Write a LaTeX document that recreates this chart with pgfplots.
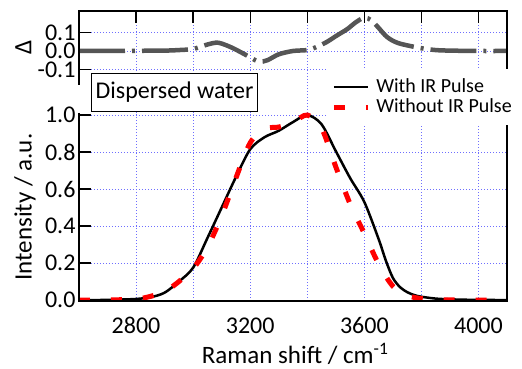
\documentclass[border=0pt]{standalone}
\usepackage{pgfplots}
\pgfplotsset{compat=1.18}
\usepackage{fontspec}
\setmainfont{Carlito}
\definecolor{gridblue}{RGB}{110,110,255}
\definecolor{deltagray}{RGB}{85,85,85}
\begin{document}
\begin{tikzpicture}
\path[use as bounding box] (-79pt,-68pt) rectangle (443pt,301pt);
\pgfplotsset{
 common/.style={
  width=428pt, scale only axis, xmin=2600, xmax=4100,
  axis line style={draw=none},
  tick style={black, line width=1.3pt},
  major tick length=12pt,
  grid=major,
  major grid style={gridblue, line width=0.8pt, dash pattern=on 1pt off 2pt},
  tick label style={font=\fontsize{24}{28}\selectfont},
  label style={font=\fontsize{25}{30}\selectfont},
  clip mode=individual,
 }
}
% ---------- Delta panel ----------
\begin{axis}[common, at={(0pt,188pt)}, anchor=south west, height=102pt,
  ymin=-0.335, ymax=0.216,
  xtick={2800,3000,3200,3400,3600,3800,4000}, xticklabels={}, xtick pos=top,
  ytick={-0.1,0,0.1}, yticklabels={-0.1,0.0,0.1}, ytick pos=left,
  yticklabel style={inner ysep=0pt},
]
\addplot[deltagray, line width=4.5pt, dash pattern=on 46pt off 7pt on 3pt off 7pt, smooth] table {
x y
2600 0
2700 0
2750 0
2800 0.001
2900 0.002
2950 0.005
3000 0.011
3050 0.035
3080 0.045
3100 0.040
3140 0.015
3200 -0.034
3230 -0.058
3260 -0.050
3300 -0.018
3350 0.000
3400 0.005
3430 0.020
3470 0.050
3500 0.080
3540 0.118
3570 0.155
3600 0.180
3625 0.165
3650 0.125
3680 0.075
3720 0.042
3800 0.015
3850 0.005
3900 0.002
4000 0
4100 0
};
\draw[line width=1.6pt] (rel axis cs:0,0.275) -- (rel axis cs:0,1) -- (rel axis cs:1,1) -- (rel axis cs:1,0.275);
\node[rotate=90, font=\fontsize{25}{30}\selectfont] at (rel axis cs:-0.130,0.647) {Δ};
\end{axis}
% ---------- Main panel ----------
\begin{axis}[common, at={(0pt,0pt)}, anchor=south west, height=188pt,
  ymin=-0.005, ymax=1.011,
  xtick={2800,3000,3200,3400,3600,3800,4000}, xticklabels={2800,,3200,,3600,,4000},
  xtick style={draw=none}, xticklabel style={yshift=-13pt},
  ytick={0,0.2,0.4,0.6,0.8,1.0}, yticklabels={0.0,0.2,0.4,0.6,0.8,1.0}, ytick pos=left,
  xlabel={Raman shift / cm\textsuperscript{-1}}, ylabel={Intensity / a.u.},
  xlabel style={at={(rel axis cs:0.505,-0.333)}, anchor=base},
  ylabel style={at={(rel axis cs:-0.126,0.5)}, anchor=center},
  legend style={at={(rel axis cs:0.582,1.234)}, anchor=north west, draw=none, fill=white,
    inner xsep=3pt, inner ysep=8pt, font=\fontsize{20}{24}\selectfont, row sep=0pt, column sep=4pt,
    nodes={inner ysep=1pt, text height=14pt, text depth=4pt}},
  legend cell align=left,
  legend image code/.code={\draw[#1] (0pt,0pt) -- (34pt,0pt);},
]
\addplot[black, line width=2.5pt, smooth] table {
x y
2600 0.000
2650 0.000
2700 0.001
2750 0.003
2800 0.006
2850 0.015
2900 0.040
2950 0.100
3000 0.175
3050 0.335
3100 0.500
3150 0.665
3200 0.815
3250 0.880
3300 0.915
3350 0.962
3400 1.000
3450 0.950
3500 0.805
3550 0.660
3600 0.530
3650 0.330
3675 0.215
3700 0.120
3725 0.070
3750 0.043
3775 0.027
3800 0.018
3850 0.008
3900 0.004
3950 0.002
4000 0.001
4100 0.000
};
\addlegendentry{With IR Pulse}
\addplot[red, line width=5pt, dash pattern=on 11pt off 21pt, smooth] table {
x y
2600 0.000
2700 0.001
2750 0.002
2800 0.004
2850 0.020
2900 0.045
2950 0.100
3000 0.170
3050 0.285
3100 0.455
3150 0.660
3200 0.850
3250 0.925
3300 0.935
3350 0.960
3400 1.000
3450 0.930
3500 0.720
3550 0.520
3600 0.360
3650 0.195
3700 0.075
3750 0.025
3800 0.008
3850 0.003
3900 0.001
4000 0.000
4100 0.000
};
\addlegendentry{Without IR Pulse}
\draw[line width=1.6pt] (rel axis cs:0,1) -- (rel axis cs:0,0) -- (rel axis cs:1,0) -- (rel axis cs:1,1);
\node[draw, line width=1.5pt, fill=white, anchor=north west, inner xsep=4pt, inner ysep=7pt,
  text height=18pt, text depth=6pt, font=\fontsize{24}{28}\selectfont]
  at (rel axis cs:0.028,1.213) {Dispersed water};
\end{axis}
\end{tikzpicture}
\end{document}
